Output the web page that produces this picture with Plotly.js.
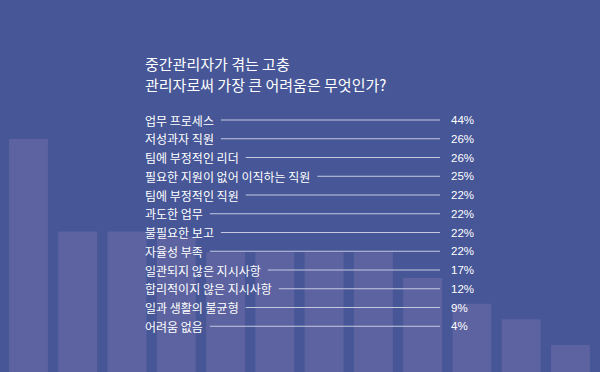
<!DOCTYPE html>
<html><head><meta charset="utf-8">
<script src="https://cdn.plot.ly/plotly-3.0.1.min.js"></script>
<style>html,body{margin:0;padding:0;background:#465697}#chart{width:600px;height:372px}</style>
</head><body><div id="chart"></div>
<script>
// ---- data ----
const titleLines = ['중간관리자가 겪는 고충', '관리자로써 가장 큰 어려움은 무엇인가?'];
const categories = [
  '업무 프로세스',
  '저성과자 직원',
  '팀에 부정적인 리더',
  '필요한 지원이 없어 이직하는 직원',
  '팀에 부정적인 직원',
  '과도한 업무',
  '불필요한 보고',
  '자율성 부족',
  '일관되지 않은 지시사항',
  '합리적이지 않은 지시사항',
  '일과 생활의 불균형',
  '어려움 없음'
];
const values = [44, 26, 26, 25, 22, 22, 22, 22, 17, 12, 9, 4];
const pctLabels = ['44%', '26%', '26%', '25%', '22%', '22%', '22%', '22%', '17%', '12%', '9%', '4%'];

// ---- style ----
const BG = '#465697', BAR = '#5c63a0', TEXT = '#ffffff', RULE = '#c5c9e0';
const KFONT = '"Noto Sans CJK KR", "Noto Sans", sans-serif';
const NFONT = '"Liberation Sans", Arial, sans-serif';
const LABEL_SIZE = 12, PCT_SIZE = 11.5, TITLE_SIZE = 15;
const LABEL_X = 145, RULE_END = 440, PCT_X = 451, GAP = 7;
const ROW0 = 120, ROW_STEP = 18.75, H = 372, W = 600;
const TITLE_Y1 = 64.5, TITLE_Y2 = 84;
const BAR_BASE = -1.3;

const ctx = document.createElement('canvas').getContext('2d');
ctx.font = LABEL_SIZE + 'px ' + KFONT;

const rx = [], ry = [];
categories.forEach((c, i) => {
  const w = ctx.measureText(c).width;
  rx.push(LABEL_X + w + GAP, RULE_END, null);
  ry.push(i, i, null);
});

const bars = {
  type: 'bar', x: categories, y: values.map(v => v - BAR_BASE), base: BAR_BASE,
  marker: {color: BAR, line: {width: 0}}, hoverinfo: 'skip', xaxis: 'x', yaxis: 'y'
};
const rules = {
  type: 'scatter', mode: 'lines', x: rx, y: ry, xaxis: 'x2', yaxis: 'y2',
  line: {color: RULE, width: 1}, hoverinfo: 'skip', connectgaps: false
};

const toRow = px => (px - ROW0) / ROW_STEP;
const annotations = [{
  xref: 'x2', yref: 'y2', x: LABEL_X, y: toRow(TITLE_Y2), text: titleLines[1], showarrow: false,
  xanchor: 'left', yanchor: 'middle', borderpad: 0, borderwidth: 0,
  font: {family: KFONT, size: TITLE_SIZE, color: TEXT}
}];
categories.forEach((c, i) => {
  annotations.push({xref: 'x2', yref: 'y2', x: LABEL_X, y: i, text: c, showarrow: false,
    xanchor: 'left', yanchor: 'middle', borderpad: 0, borderwidth: 0,
    font: {family: KFONT, size: LABEL_SIZE, color: TEXT}});
  annotations.push({xref: 'x2', yref: 'y2', x: PCT_X, y: i, text: pctLabels[i], showarrow: false,
    xanchor: 'left', yanchor: 'middle', borderpad: 0, borderwidth: 0,
    font: {family: NFONT, size: PCT_SIZE, color: TEXT}});
});

const yTop = -ROW0 / ROW_STEP, yBot = yTop + H / ROW_STEP;
const layout = {
  width: W, height: H, margin: {l: 0, r: 0, t: 0, b: 0},
  paper_bgcolor: BG, plot_bgcolor: BG, showlegend: false, bargap: 0.21,
  title: {text: titleLines[0], x: LABEL_X / W, xanchor: 'left', xref: 'paper',
    y: 1 - TITLE_Y1 / H, yanchor: 'middle', yref: 'container',
    font: {family: KFONT, size: TITLE_SIZE, color: TEXT}},
  xaxis: {type: 'category', range: [-0.578, 11.6], visible: false, fixedrange: true},
  yaxis: {range: [-1.26, 70.97], visible: false, fixedrange: true},
  xaxis2: {overlaying: 'x', range: [0, W], visible: false, fixedrange: true},
  yaxis2: {overlaying: 'y', range: [yBot, yTop], visible: false, fixedrange: true},
  annotations: annotations
};
Plotly.newPlot('chart', [bars, rules], layout, {displayModeBar: false, staticPlot: true});
</script></body></html>
